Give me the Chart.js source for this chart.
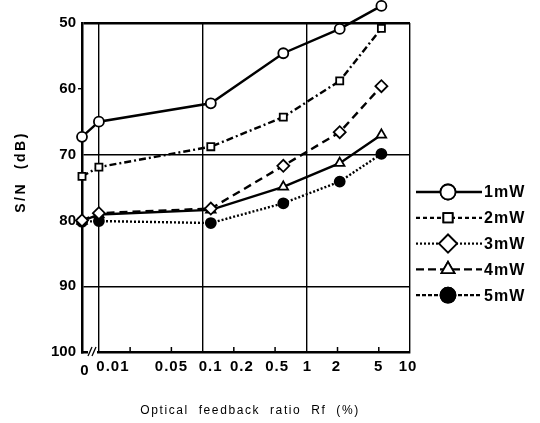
<!DOCTYPE html>
<html>
<head>
<meta charset="utf-8">
<script src="https://cdn.jsdelivr.net/npm/chart.js@4.4.1/dist/chart.umd.min.js"></script>
<style>
  html, body { margin: 0; padding: 0; background: #fff; }
  canvas { display: block; }
</style>
</head>
<body>
<canvas id="c" width="540" height="423"></canvas>
<script>
// ---- data ----
const xValues = [0, 0.01, 0.12, 0.6, 2.1, 5.3];       // optical feedback ratio Rf (%)
const s1mW = [67.3, 65.0, 62.2, 54.6, 50.9, 47.4];
const s2mW = [73.3, 71.9, 68.8, 64.3, 58.8, 50.8];
const s3mW = [80.0, 78.9, 78.2, 71.7, 66.6, 59.6];
const s4mW = [80.1, 79.1, 78.4, 74.9, 71.3, 67.0];
const s5mW = [80.2, 80.1, 80.4, 77.4, 74.1, 69.9];
const seriesNames = ['1mW', '2mW', '3mW', '4mW', '5mW'];
const xTickValues = [0, 0.01, 0.05, 0.1, 0.2, 0.5, 1, 2, 5, 10];
const xTickLabels = ['0', '0.01', '0.05', '0.1', '0.2', '0.5', '1', '2', '5', '10'];
const xMinorInward = [0.02, 0.05, 0.2, 0.5, 2, 5];
const xGridValues = [0.01, 0.1, 1, 10];
const yTickValues = [50, 60, 70, 80, 90, 100];
const yGridValues = [50, 70, 90];

// broken log axis: 0 placed a little left of 0.01
const ZERO_T = -2.163;
const tx = v => (v === 0 ? ZERO_T : Math.log10(v));
const near = (a, b) => Math.abs(a - b) < 1e-6;

const FONT = "'Liberation Sans', Arial, sans-serif";

const styles = [
  { pointStyle: 'circle',   fill: '#fff', dash: [],            legendDash: [],     r: 5,   lr: 7.5 },
  { pointStyle: 'rect',     fill: '#fff', dash: [7, 3, 2, 3],  legendDash: [4, 3], r: 5,   lr: 6.5 },
  { pointStyle: 'rectRot',  fill: '#fff', dash: [8, 5],        legendDash: [2, 2], r: 6,   lr: 9 },
  { pointStyle: 'triangle', fill: '#fff', dash: [],            legendDash: [8, 4], r: 5.5, lr: 7.5 },
  { pointStyle: 'circle',   fill: '#000', dash: [2, 2],        legendDash: [4, 2], r: 5,   lr: 7.5 }
];
const allSeries = [s1mW, s2mW, s3mW, s4mW, s5mW];

const datasets = allSeries.map((s, i) => ({
  label: seriesNames[i],
  data: xValues.map((x, j) => ({ x: tx(x), y: s[j] })),
  borderColor: '#000',
  borderWidth: 2.4,
  borderDash: styles[i].dash,
  pointStyle: styles[i].pointStyle,
  pointRadius: styles[i].r,
  pointBorderWidth: 1.8,
  pointBorderColor: '#000',
  pointBackgroundColor: styles[i].fill,
  fill: false,
  tension: 0,
  clip: false
}));

// small per-label horizontal nudges so the crowded labels sit as in the original
const labelNudge = { '0': 3, '0.01': 14, '0.05': 0, '0.1': 8, '0.2': 8, '0.5': 2, '1': 1, '2': -1, '5': 0, '10': -2 };

const extras = {
  id: 'extras',
  afterDatasetsDraw(chart) {
    // points lying beyond the top frame (Chart.js skips them) are drawn here
    chart.data.datasets.forEach((ds, i) => {
      const meta = chart.getDatasetMeta(i);
      meta.data.forEach(el => {
        if (el.y < chart.chartArea.top - 1) el.draw(chart.ctx);
      });
    });
  },
  afterDraw(chart) {
    const ctx = chart.ctx;
    const xs = chart.scales.x;
    const bottom = chart.chartArea.bottom;
    ctx.save();
    // inward minor ticks on x axis
    ctx.strokeStyle = '#000';
    ctx.lineWidth = 1.5;
    xMinorInward.forEach(v => {
      const px = xs.getPixelForValue(tx(v));
      ctx.beginPath();
      ctx.moveTo(px, bottom);
      ctx.lineTo(px, bottom - 5);
      ctx.stroke();
    });
    // axis break marks
    const bx = xs.getPixelForValue(ZERO_T) + 8;
    ctx.fillStyle = '#fff';
    ctx.fillRect(bx - 2, bottom - 2, 9, 4);
    ctx.lineWidth = 1.3;
    [0, 4].forEach(o => {
      ctx.beginPath();
      ctx.moveTo(bx + o - 2, bottom + 4);
      ctx.lineTo(bx + o + 2, bottom - 5);
      ctx.stroke();
    });
    // x tick labels
    ctx.fillStyle = '#000';
    ctx.font = 'bold 15px ' + FONT;
    ctx.textAlign = 'center';
    ctx.textBaseline = 'middle';
    try { ctx.letterSpacing = '1px'; } catch (e) {}
    xTickValues.forEach((v, i) => {
      const lab = xTickLabels[i];
      const px = xs.getPixelForValue(tx(v)) + (labelNudge[lab] || 0);
      ctx.fillText(lab, px, bottom + (v === 0 ? 19 : 15));
    });
    // axis titles
    ctx.font = 'bold 14px ' + FONT;
    try { ctx.letterSpacing = '2.5px'; } catch (e) {}
    ctx.save();
    ctx.translate(21, 172);
    ctx.rotate(-Math.PI / 2);
    ctx.fillText('S/N  (dB)', 0, 0);
    ctx.restore();
    ctx.font = '12px ' + FONT;
    try { ctx.letterSpacing = '1.6px'; } catch (e) {}
    ctx.fillText('Optical  feedback  ratio  Rf  (%)', 250, 411);
    try { ctx.letterSpacing = '0px'; } catch (e) {}
    // legend
    const ly0 = 192, dy = 25.8;
    chart.data.datasets.forEach((ds, i) => {
      const y = ly0 + i * dy;
      ctx.strokeStyle = '#000';
      ctx.lineWidth = i === 0 ? 2.6 : 2.2;
      ctx.setLineDash(styles[i].legendDash);
      ctx.beginPath();
      ctx.moveTo(416, y);
      ctx.lineTo(482, y);
      ctx.stroke();
      ctx.setLineDash([]);
      ctx.lineWidth = 1.8;
      ctx.fillStyle = styles[i].fill;
      Chart.helpers.drawPoint(ctx, {
        pointStyle: styles[i].pointStyle,
        radius: styles[i].lr,
        rotation: 0,
        borderWidth: 1.8
      }, 448, y);
      ctx.fill();
      ctx.stroke();
      ctx.fillStyle = '#000';
      ctx.font = 'bold 16px ' + FONT;
      ctx.textAlign = 'left';
      ctx.textBaseline = 'middle';
      try { ctx.letterSpacing = '1px'; } catch (e) {}
      ctx.fillText(ds.label, 484, y + 1);
      try { ctx.letterSpacing = '0px'; } catch (e) {}
    });
    ctx.restore();
  }
};

new Chart(document.getElementById('c'), {
  type: 'line',
  data: { datasets },
  options: {
    responsive: false,
    animation: false,
    layout: { padding: { top: 23, right: 130, left: 0, bottom: 0 } },
    plugins: { legend: { display: false }, tooltip: { enabled: false } },
    scales: {
      x: {
        type: 'linear',
        min: ZERO_T,
        max: 1,
        afterBuildTicks: s => { s.ticks = xTickValues.map(v => ({ value: tx(v) })); },
        afterFit: s => { s.height = 71; },
        ticks: { display: false, autoSkip: false, maxRotation: 0 },
        grid: {
          color: c => (c.tick && xGridValues.some(g => near(tx(g), c.tick.value)) ? '#000' : 'rgba(0,0,0,0)'),
          lineWidth: 1.4,
          drawTicks: false
        },
        border: { color: '#000', width: 2.5 }
      },
      y: {
        type: 'linear',
        reverse: true,
        min: 50,
        max: 100,
        afterBuildTicks: s => { s.ticks = yTickValues.map(v => ({ value: v })); },
        afterFit: s => { s.width = 82; },
        ticks: {
          padding: 2,
          color: '#000',
          font: { family: FONT, size: 15, weight: 'bold' },
          callback: v => String(v)
        },
        grid: {
          color: c => (c.tick && yGridValues.includes(c.tick.value) ? '#000' : 'rgba(0,0,0,0)'),
          tickColor: c => (c.tick && (c.tick.value === 60 || c.tick.value === 80) ? '#000' : 'rgba(0,0,0,0)'),
          lineWidth: c => (c.tick && c.tick.value === 50 ? 2.5 : 1.4),
          tickLength: 4,
          drawTicks: true
        },
        border: { color: '#000', width: 2.5 }
      }
    }
  },
  plugins: [extras]
});
</script>
</body>
</html>
